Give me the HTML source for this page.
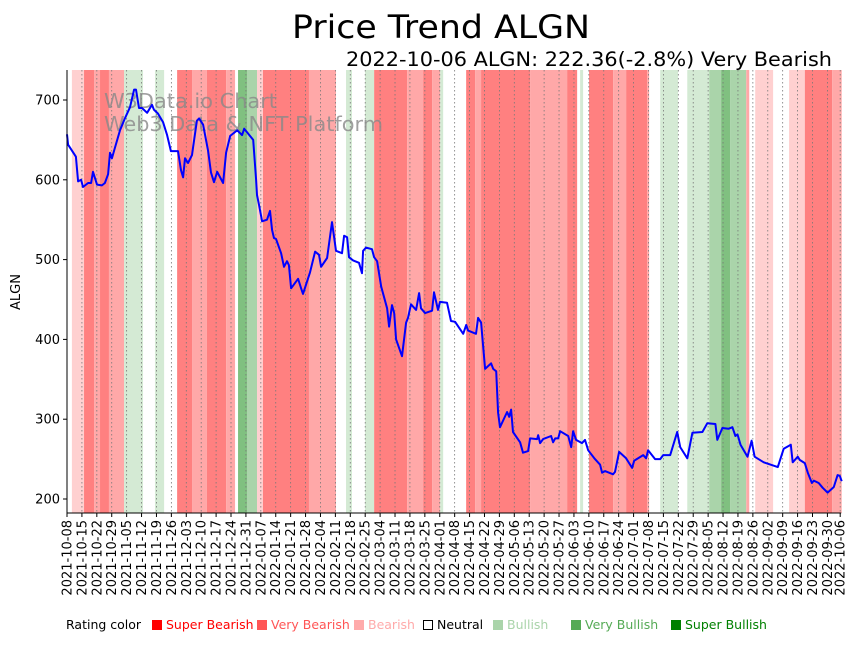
<!DOCTYPE html>
<html><head><meta charset="utf-8"><style>
body{margin:0;background:#fff;}
svg{font-family:"DejaVu Sans","Liberation Sans",sans-serif;}
</style></head><body>
<svg id="chart" width="859" height="641" viewBox="0 0 859 641">
<text x="441" y="38" text-anchor="middle" font-size="32" textLength="298" lengthAdjust="spacingAndGlyphs" fill="#000">Price Trend ALGN</text>
<text x="832" y="66" text-anchor="end" font-size="19.5" textLength="486" lengthAdjust="spacingAndGlyphs" fill="#000">2022-10-06 ALGN: 222.36(-2.8%) Very Bearish</text>
<g id="bands"></g>
<g id="grid"></g>
<text x="104" y="108" font-size="20" textLength="173" lengthAdjust="spacingAndGlyphs" fill="#888" fill-opacity="0.8">W3Data.io Chart</text>
<text x="104" y="131" font-size="20" textLength="279" lengthAdjust="spacingAndGlyphs" fill="#888" fill-opacity="0.8">Web3 Data &amp; NFT Platform</text>
<path id="line" fill="none" stroke="#0000ff" stroke-width="2" stroke-linejoin="round"/>
<g id="axes"></g>
<text transform="translate(20,292) rotate(-90)" text-anchor="middle" font-size="13">ALGN</text>
<g font-size="12.5">
<text x="66" y="629" fill="#000">Rating color</text>
<g><rect x="152" y="620" width="10" height="10" fill="#ff0000"/><text x="166" y="629" fill="#ff0000">Super Bearish</text></g>
<g><rect x="257" y="620" width="10" height="10" fill="#ff5555"/><text x="271" y="629" fill="#ff5555">Very Bearish</text></g>
<g><rect x="354" y="620" width="10" height="10" fill="#ffaaaa"/><text x="368" y="629" fill="#ffaaaa">Bearish</text></g>
<g><rect x="423.5" y="620.5" width="9" height="9" fill="#fff" stroke="#000"/><text x="437" y="629" fill="#000">Neutral</text></g>
<g><rect x="493" y="620" width="10" height="10" fill="#aad4aa"/><text x="507" y="629" fill="#aad4aa">Bullish</text></g>
<g><rect x="571" y="620" width="10" height="10" fill="#55aa55"/><text x="585" y="629" fill="#55aa55">Very Bullish</text></g>
<g><rect x="671" y="620" width="10" height="10" fill="#008000"/><text x="685" y="629" fill="#008000">Super Bullish</text></g>
</g>
</svg>
<script>
const days = [0,0.5,4.2,5.2,6.6,7.5,9.9,11.3,12.2,14.1,16.4,17.8,19.3,20.2,21.1,22.5,24.9,27.2,29.6,31.5,32.4,33.8,35.2,37.6,39.9,40.8,42.7,45.1,47,48.8,52.1,53.5,54.5,55.4,56.8,58.7,59.2,61,62,63.9,66.2,67.6,69,70.5,73.3,74.7,76.6,79.9,82.2,83.2,87.4,
88.8,89.2,90.2,91.6,93.9,95.3,96.3,97.2,98.1,100.5,101.9,103.3,104.2,105.2,108.5,109.9,110.8,114.1,116.5,118.3,119.3,122.1,124.4,126.3,129.1,130.1,131.5,132.4,134.3,137.1,138.5,139,140.4,143.2,144.2,145.6,147.5,150.3,151.2,152.6,153.6,154.5,157.3,159.2,160.1,161.5,163.9,165.3,166.2,168.1,171.4,172.3,174.2,175.1,178.4,180.3,182.2,186,187.4,188.3,192,193,194.4,196.3,199.1,200.1,201.5,202.4,203.3,
206.6,207.6,208.5,209.4,212.7,214.1,216.5,217.4,220.7,221.2,222.1,223.5,227.3,228.2,229.2,230.6,231.5,235.3,236.7,237.6,239,241.8,243.2,244.7,247.9,250.3,251.2,252.6,256.4,257.3,259.2,262.5,265.3,266.3,270.5,271.9,272.8,276.1,278.5,279.9,283.2,286.5,287.9,291.2,293.6,298.3,300.6,304.4,305.3,307.7,310.5,312.4,313.8,314.8,316.2,319.5,321.4,322.8,327.1,333.7,336.5,339.8,340.7,343.1,344,346.4,347.8,349.7,350.6,352.9,354.8,357.1,360,361.8,362.8,363.7];
const prices = [657,644,629,598,600,591,596,596,610,594,593,596,607,634,627,640,662,677,691,713,713,690,690,684,694,688,683,672,656,636,636,612,603,627,621,631,641,674,677,669,637,609,597,610,596,634,655,662,656,664,650,
600,581,568,548,550,561,537,527,526,508,491,498,493,464,476,464,457,484,510,506,491,502,547,511,508,530,528,503,499,496,483,511,515,513,503,498,466,439,416,443,433,400,379,421,427,444,437,458,439,433,436,459,437,447,446,423,422,407,418,411,407,427,421,363,370,363,360,308,290,
309,303,312,284,271,258,260,276,275,280,270,275,279,271,276,276,285,279,265,285,274,270,274,261,250,243,233,235,231,234,259,251,239,248,255,251,261,250,250,255,255,284,265,251,283,284,295,294,274,289,288,290,279,281,268,253,273,253,246,240,263,268,246,253,249,245,233,220,223,220,214,208,215,230,229,222.36];
const bandStart = [2.3,8,12.7,15.5,19.7,26.8,41.3,51.7,58.7,65.7,74.7,80.3,84.5,89.2,92,113.6,131,139.9,144.2,159.7,167.2,171.4,175.2,187.4,191.6,194.4,217.4,234.8,240.9,245.1,256.4,262.5,272.4,278.5,291.2,301.5,307.1,311.3,318.9,323.1,339,346.4,359.2];
const bandEnd   = [8,12.7,15.5,19.7,26.8,35.7,45.6,58.7,65.7,74.7,78.9,84.5,89.2,92,113.6,126.3,133.8,144.2,159.7,167.2,171.4,175.2,176.6,191.6,194.4,217.4,234.8,239.5,242.3,256.4,262.5,272.4,273.3,286.9,301.5,307.1,311.3,318.9,320.3,331.5,346.4,359.2,363.7];
const bandRating = [-1,-3,-2,-3,-2,1,1,-3,-2,-3,-2,3,2,-1,-3,-2,1,1,-3,-2,-3,-2,1,-3,-2,-3,-2,-3,1,-3,-2,-3,-2,1,1,2,3,2,-2,-1,-1,-3,-2];
const yTicks = [200,300,400,500,600,700];
const startDate = new Date(Date.UTC(2021,9,8));
const lastDay = 363;

const X0=67, PXD=2.13, PT=70, PB=513;
const xs = d => X0 + d*PXD;
const ys = v => 499 - (v-200)*0.798;
const NS="http://www.w3.org/2000/svg";
const colors = {"-3":"#ff8080","-2":"#ffa8a8","-1":"#ffd0d0","1":"#d4ead4","2":"#aad4aa","3":"#80c080"};
const bands=document.getElementById('bands');
for(let i=0;i<bandStart.length;i++){
  const r=document.createElementNS(NS,'rect');
  r.setAttribute('x',xs(bandStart[i]));r.setAttribute('y',PT);
  r.setAttribute('width',(bandEnd[i]-bandStart[i])*PXD);r.setAttribute('height',PB-PT);
  r.setAttribute('fill',colors[bandRating[i]]);
  
  
  bands.appendChild(r);
}
const fmt=d=>{const t=new Date(startDate.getTime()+d*86400000);return t.toISOString().slice(0,10);};
const tickDays=[];for(let d=0;d<=lastDay-6;d+=7)tickDays.push(d);tickDays.push(lastDay);
const grid=document.getElementById('grid'), axes=document.getElementById('axes');
tickDays.forEach(d=>{
  const x=xs(d);
  const g=document.createElementNS(NS,'line');
  g.setAttribute('x1',x);g.setAttribute('x2',x);g.setAttribute('y1',PT);g.setAttribute('y2',PB);
  g.setAttribute('stroke','#777');g.setAttribute('stroke-width','0.8');g.setAttribute('stroke-dasharray','1.5,2.5');
  
  
  grid.appendChild(g);
  const t=document.createElementNS(NS,'line');
  t.setAttribute('x1',x);t.setAttribute('x2',x);t.setAttribute('y1',PB);t.setAttribute('y2',PB+4);t.setAttribute('stroke','#000');
  
  
  axes.appendChild(t);
  const l=document.createElementNS(NS,'text');
  l.setAttribute('transform',`translate(${x+4.5},520) rotate(-90)`);
  l.setAttribute('text-anchor','end');l.setAttribute('font-size','13');
  l.textContent=fmt(d);
  
  
  axes.appendChild(l);
});
yTicks.forEach(v=>{
  const y=ys(v);
  const t=document.createElementNS(NS,'line');
  t.setAttribute('x1',X0-4);t.setAttribute('x2',X0);t.setAttribute('y1',y);t.setAttribute('y2',y);t.setAttribute('stroke','#000');
  
  
  axes.appendChild(t);
  const l=document.createElementNS(NS,'text');
  l.setAttribute('x',X0-7);l.setAttribute('y',y+4.5);l.setAttribute('text-anchor','end');l.setAttribute('font-size','13');
  l.textContent=v;
  
  
  axes.appendChild(l);
});
const sp=document.createElementNS(NS,'path');
sp.setAttribute('d',`M${X0},${PT}V${PB}H${xs(lastDay)+1}`);sp.setAttribute('fill','none');sp.setAttribute('stroke','#000');


axes.appendChild(sp);
document.getElementById('line').setAttribute('d',days.map((d,i)=>(i?'L':'M')+xs(d).toFixed(1)+','+ys(prices[i]).toFixed(1)).join(''));
</script>
</body></html>
